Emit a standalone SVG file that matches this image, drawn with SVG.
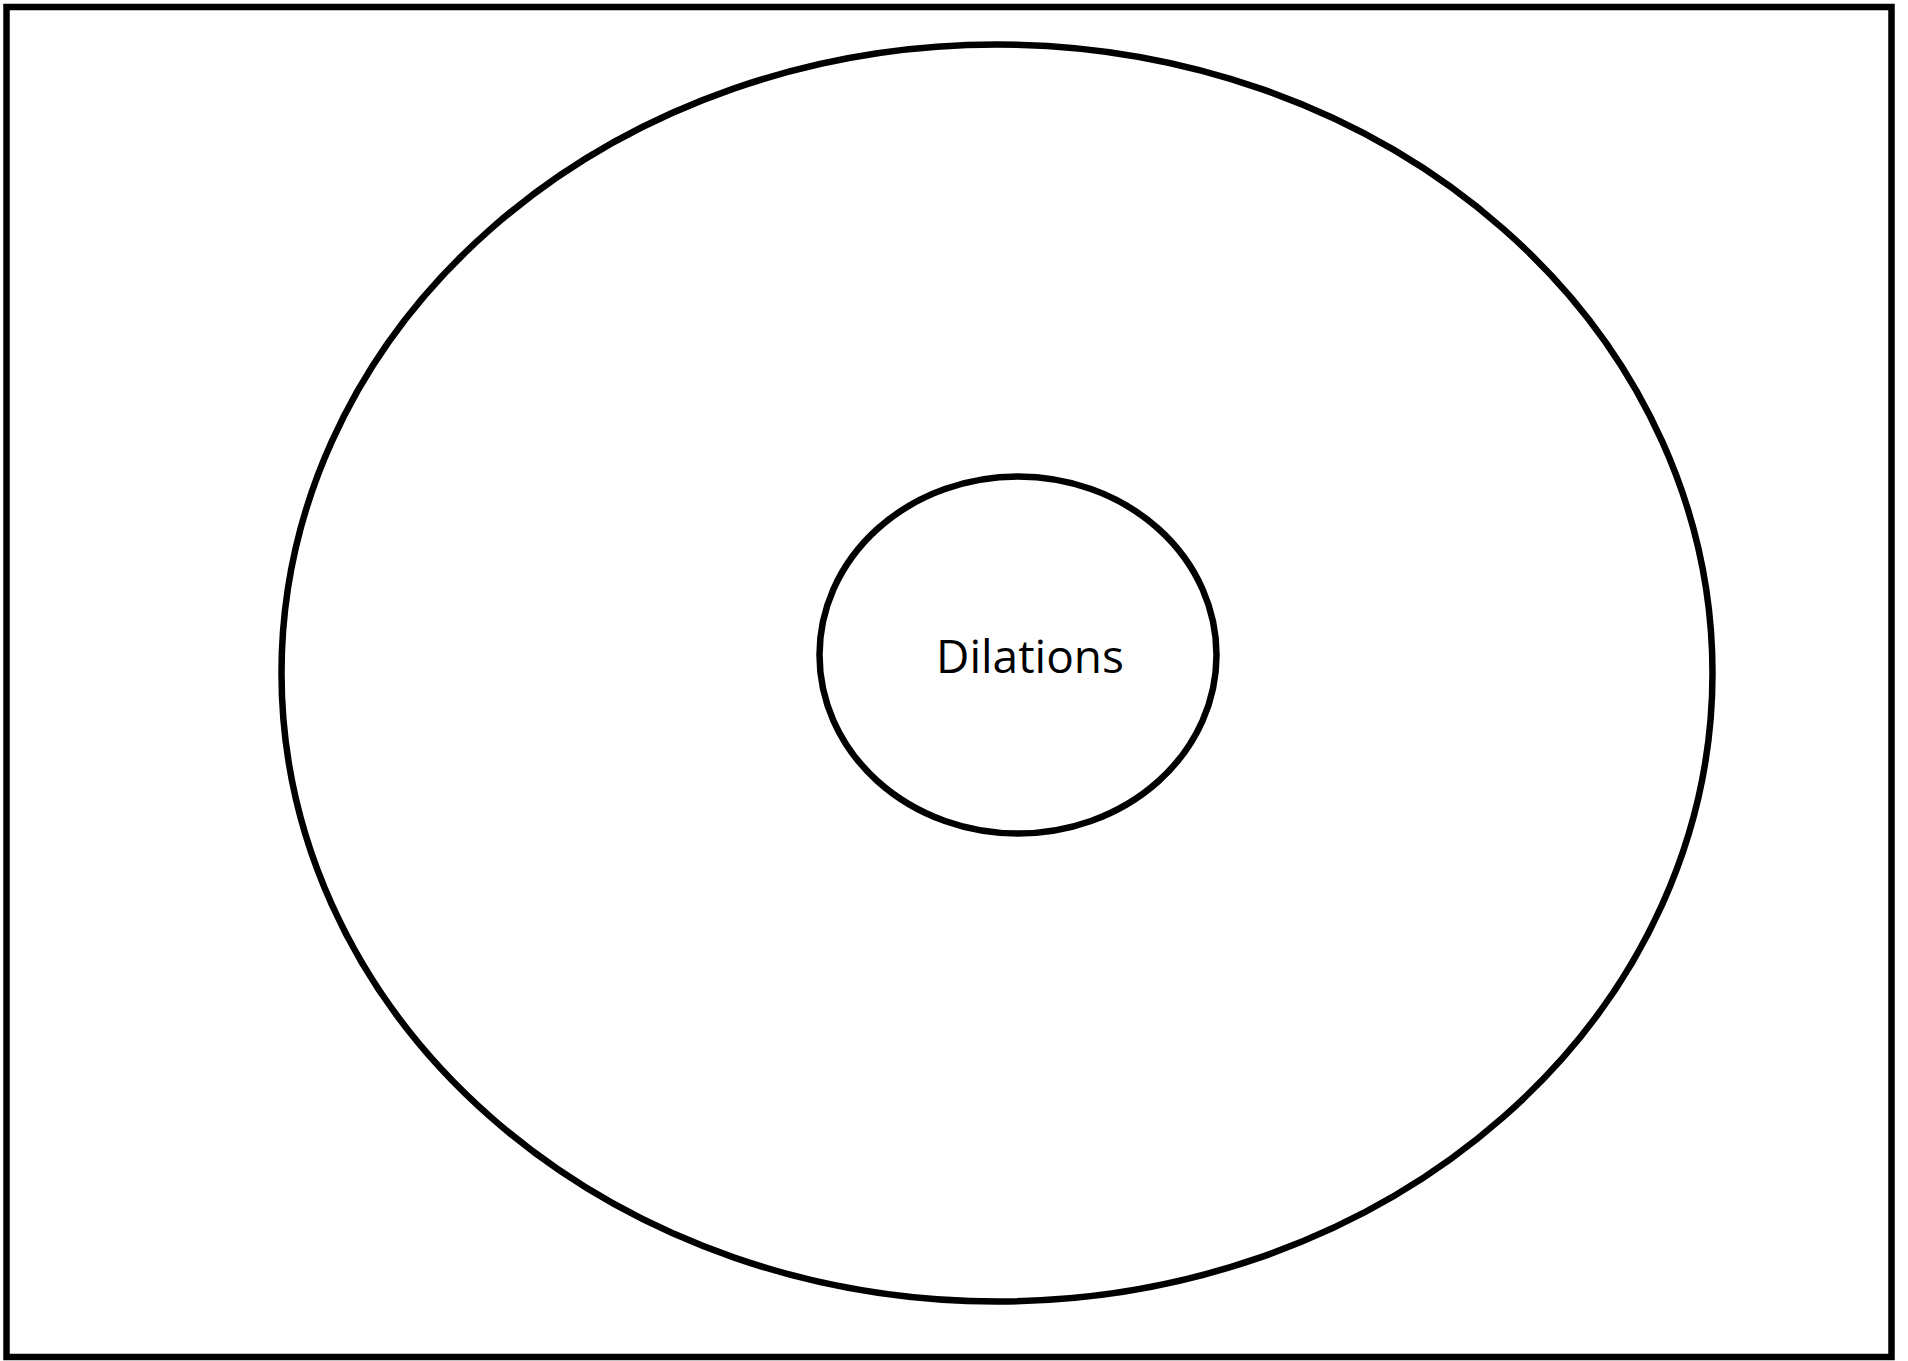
<svg xmlns="http://www.w3.org/2000/svg" width="1908" height="1361" viewBox="0 0 1908 1361">
<style>
.frame{fill:#ffffff;stroke:#000000;stroke-width:6.5}
.ell{fill:none;stroke:#000000;stroke-width:6.5}
.lbl{font-family:"Open Sans","Noto Sans","Liberation Sans",sans-serif;font-size:46px;fill:#000000;text-anchor:middle}
</style>
<rect x="0" y="0" width="1908" height="1361" fill="#ffffff"/>
<g id="frame"><rect class="frame" x="6.5" y="7" width="1885" height="1350"/></g>
<g id="outer"><ellipse class="ell" cx="997" cy="673" rx="715.5" ry="628.5"/></g>
<g id="dilations"><ellipse class="ell" cx="1018" cy="655" rx="198.5" ry="178.5"/><text class="lbl" x="1030" y="673">Dilations</text></g>
<g id="connectors"></g>
</svg>
